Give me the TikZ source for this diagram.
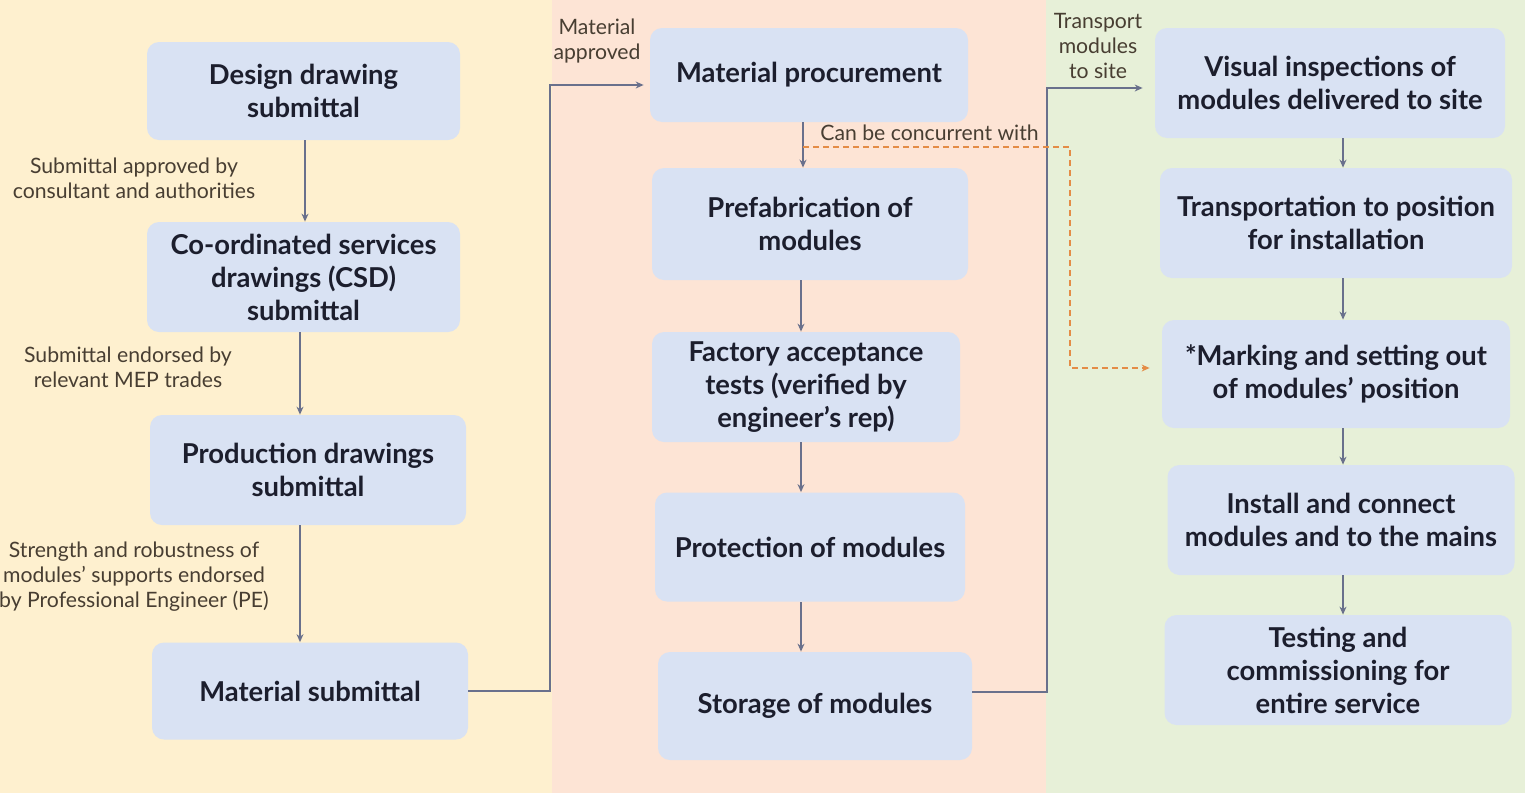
\documentclass[tikz,border=0pt]{standalone}
\usepackage{fontspec}
\setmainfont{Lato}
\usetikzlibrary{arrows.meta,calc}
\definecolor{bgY}{RGB}{254,240,207}
\definecolor{bgP}{RGB}{253,228,213}
\definecolor{bgG}{RGB}{231,240,216}
\definecolor{boxc}{RGB}{217,226,243}
\definecolor{txt}{RGB}{28,30,45}
\definecolor{lbl}{RGB}{72,62,50}
\definecolor{arrc}{RGB}{105,112,140}
\definecolor{dashc}{RGB}{228,140,70}
\tikzset{
  stepbox/.style={rounded corners=6pt, fill=boxc, draw=none, align=center,
    text=txt, font=\bfseries\fontsize{13.7}{16.5}\selectfont, inner sep=0pt},
  lab/.style={align=center, text=lbl, font=\fontsize{10.6}{12.5}\selectfont, inner sep=0pt},
  arr/.style={draw=arrc, line width=0.6pt, -{Stealth[length=4pt,width=3.5pt]}},
  darr/.style={draw=dashc, line width=0.6pt, dashed, dash pattern=on 3pt off 2pt, -{Stealth[length=4pt,width=3.5pt]}},
}
\begin{document}
\begin{tikzpicture}[x=0.5pt,y=-0.5pt]
\useasboundingbox (0,0) rectangle (1525,793);
\fill[bgY] (0,0) rectangle (552,793);
\fill[bgP] (552,0) rectangle (1046,793);
\fill[bgG] (1046,0) rectangle (1525,793);

% left column
\node[stepbox, minimum width=156.5pt, minimum height=49pt] (B1) at (303.5,91) {Design drawing\\submittal};
\node[stepbox, minimum width=156.5pt, minimum height=55pt] (B2) at (303.5,277) {Co-ordinated services\\drawings (CSD)\\submittal};
\node[stepbox, minimum width=158pt, minimum height=55pt] (B3) at (308,470) {Production drawings\\submittal};
\node[stepbox, minimum width=158pt, minimum height=48.5pt] (B4) at (310,691) {Material submittal};

% middle column
\node[stepbox, minimum width=159pt, minimum height=47pt] (M1) at (809,75) {Material procurement};
\node[stepbox, minimum width=158pt, minimum height=56pt] (M2) at (810,224) {Prefabrication of\\modules};
\node[stepbox, minimum width=154pt, minimum height=55pt] (M3) at (806,387) {Factory acceptance\\tests (verified by\\engineer's rep)};
\node[stepbox, minimum width=155pt, minimum height=54.5pt] (M4) at (810,547) {Protection of modules};
\node[stepbox, minimum width=157pt, minimum height=54pt] (M5) at (815,706) {Storage of modules};

% right column
\node[stepbox, minimum width=175pt, minimum height=55pt] (R1) at (1330,83) {Visual inspections of\\modules delivered to site};
\node[stepbox, minimum width=176pt, minimum height=55pt] (R2) at (1336,223) {Transportation to position\\for installation};
\node[stepbox, minimum width=174pt, minimum height=54pt] (R3) at (1336,374) {*Marking and setting out\\of modules' position};
\node[stepbox, minimum width=173.5pt, minimum height=55pt] (R4) at (1341,520) {Install and connect\\modules and to the mains};
\node[stepbox, minimum width=173.5pt, minimum height=55pt] (R5) at (1338,670) {Testing and\\commissioning for\\entire service};

% labels
\node[lab] (L1) at (134,178) {Submittal approved by\\consultant and authorities};
\node[lab] (L2) at (128,367) {Submittal endorsed by\\relevant MEP trades};
\node[lab] (L3) at (134,577) {Strength and robustness of\\modules' supports endorsed\\by Professional Engineer (PE)};
\node[lab] (L4) at (597,41) {Material\\approved};
\node[lab] (L5) at (1098,46) {Transport\\modules\\to site};
\node[lab, anchor=west] (L6) at (820,133) {Can be concurrent with};

% vertical arrows
\draw[arr] (305,140) coordinate (a1) -- (a1 |- B2.north);
\draw[arr] (300,332) coordinate (a2) -- (a2 |- B3.north);
\draw[arr] (300,525) coordinate (a3) -- (a3 |- B4.north);
\draw[arr] (803,122) coordinate (a4) -- (a4 |- M2.north);
\draw[arr] (801,280) coordinate (a5) -- (a5 |- M3.north);
\draw[arr] (801,442) coordinate (a6) -- (a6 |- M4.north);
\draw[arr] (801,602) coordinate (a7) -- (a7 |- M5.north);
\draw[arr] (1343,138) coordinate (a8) -- (a8 |- R2.north);
\draw[arr] (1343,278) coordinate (a9) -- (a9 |- R3.north);
\draw[arr] (1343,428) coordinate (a10) -- (a10 |- R4.north);
\draw[arr] (1343,575) coordinate (a11) -- (a11 |- R5.north);

% cross-column connectors
\coordinate (c1) at (550,85);
\draw[arr, shorten >=3pt] (B4.east) -| (c1) -- (c1 -| M1.west);
\coordinate (c2) at (1047,88);
\draw[arr, shorten >=6pt] (M5.east |- 0,692) -| (c2) -- (c2 -| R1.west);
\coordinate (d0) at (803,147);
\coordinate (d1) at (1070,147);
\coordinate (d2) at (1070,368);
\draw[darr, shorten >=6pt] (d0) -- (d1) -- (d2) -- (d2 -| R3.west);
\end{tikzpicture}
\end{document}
